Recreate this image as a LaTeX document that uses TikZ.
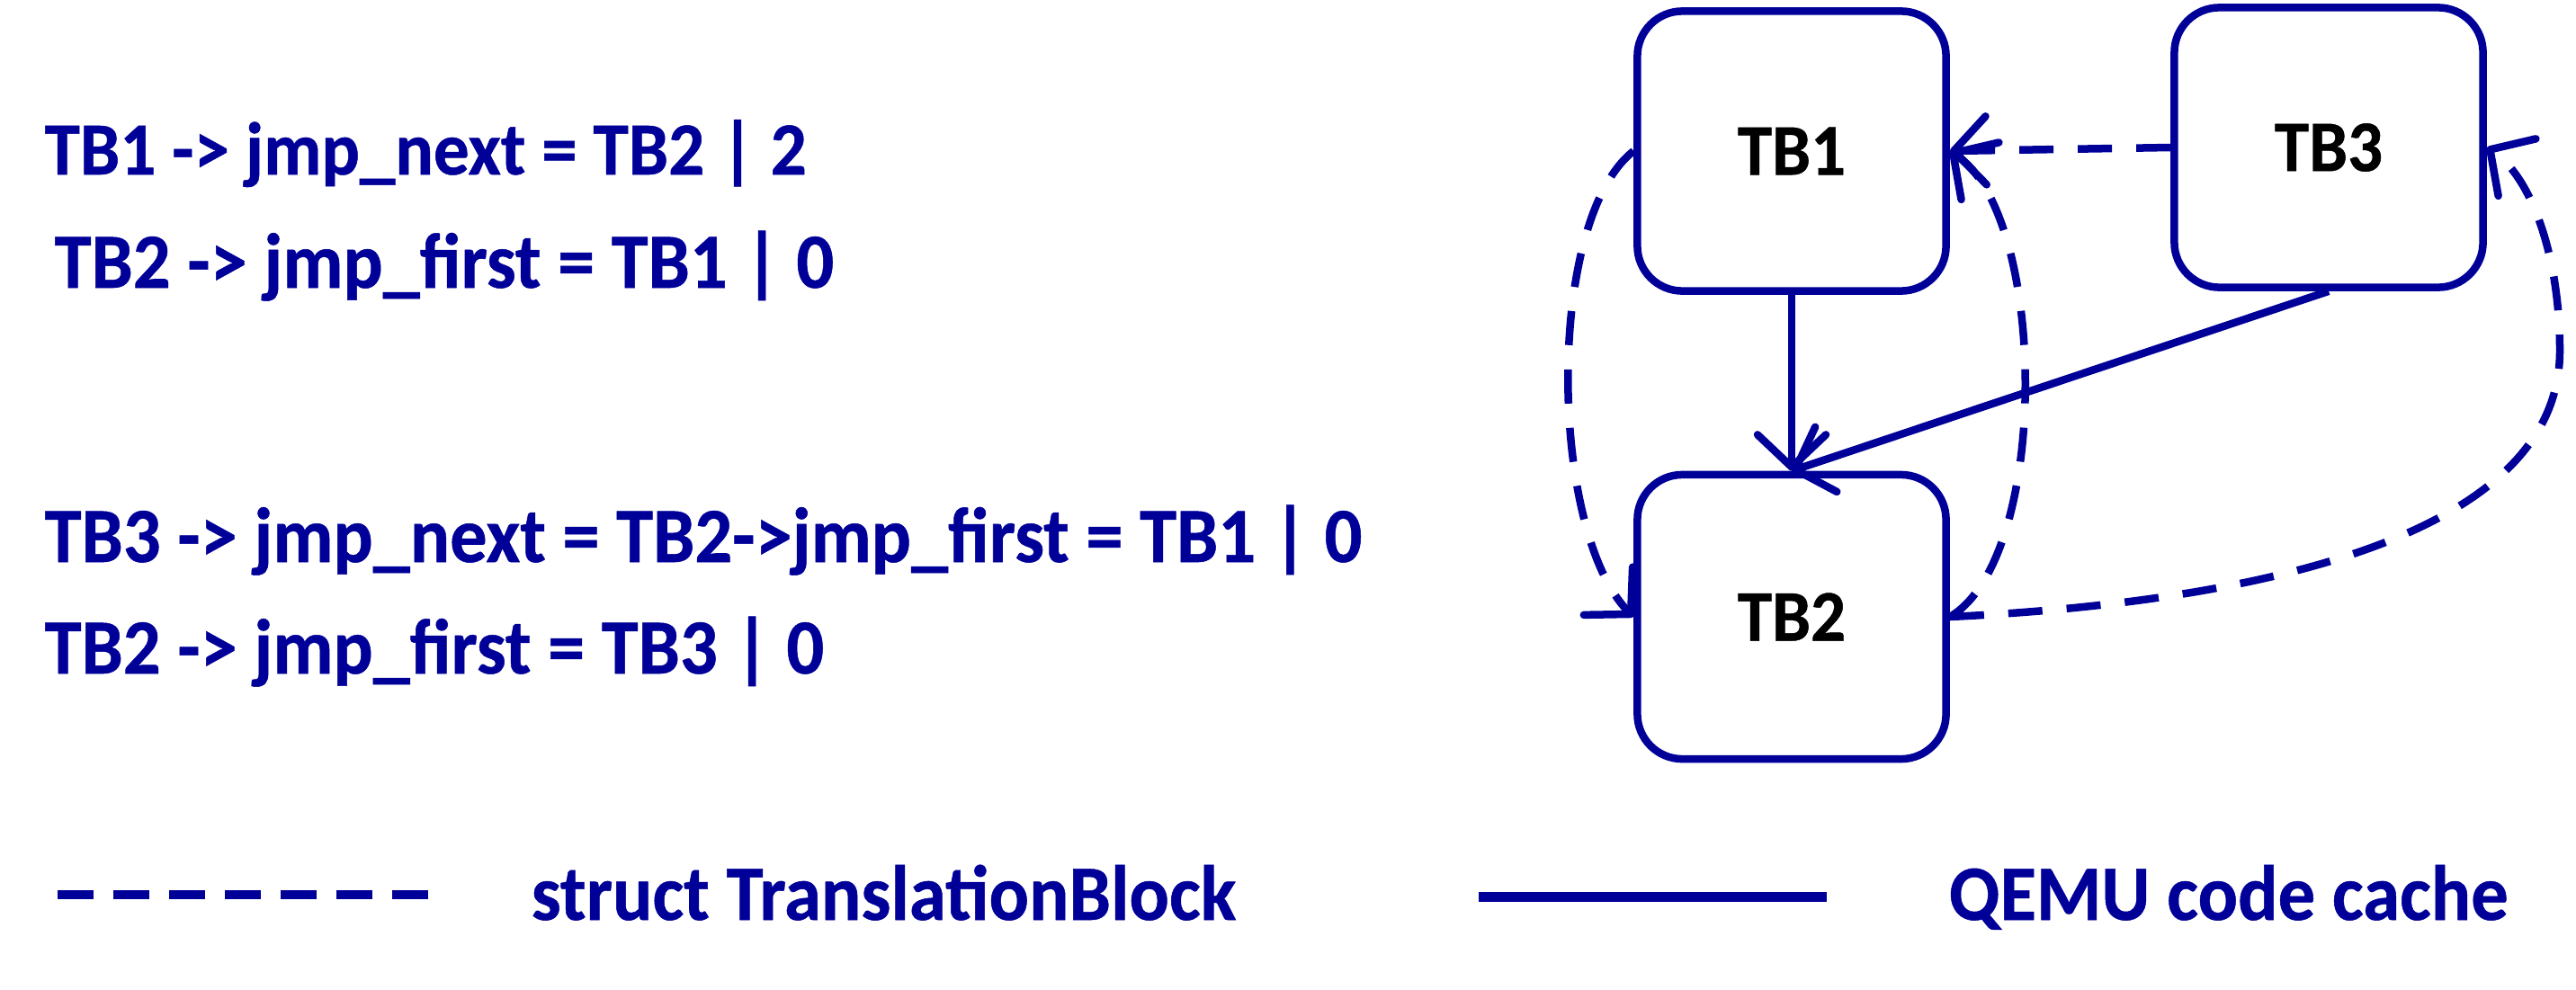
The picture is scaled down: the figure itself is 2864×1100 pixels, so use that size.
\documentclass[tikz,border=0pt]{standalone}
\usepackage{fontspec}
\setmainfont{Carlito}[FakeStretch=0.95, BoldFeatures={FakeBold=0.6}]
\usetikzlibrary{arrows.meta,calc}
\definecolor{qblue}{RGB}{0,0,153}
\begin{document}
\begin{tikzpicture}[x=0.01cm,y=-0.01cm,
  tb/.style={draw=qblue, line width=0.085cm, rounded corners=0.5cm, minimum width=3.43cm, minimum height=3.11cm,
    font=\fontsize{23pt}{27pt}\selectfont\bfseries, text=black, inner sep=0pt},
  code/.style={anchor=base west, text=qblue, font=\fontsize{24.7pt}{29pt}\selectfont\bfseries, inner sep=0pt},
  legendtext/.style={anchor=base west, text=qblue, font=\fontsize{24.8pt}{29pt}\selectfont\bfseries, inner sep=0pt},
  link/.style={draw=qblue, line width=0.085cm, dash pattern=on 0.38cm off 0.27cm},
  cache/.style={draw=qblue, line width=0.085cm},
  tip/.style={-{Straight Barb[length=0.36cm,width=0.76cm,round]}},
]
\useasboundingbox (0,0) rectangle (2864,1100);

% boxes
\node[tb] (tb1) at (1992,168) {TB1};
\node[tb] (tb3) at (2589,164) {TB3};
\node[tb, minimum height=3.16cm] (tb2) at (1992,686) {TB2};

% QEMU code cache links
\draw[cache,tip] (tb1.south) -- (tb2.north);
\draw[cache,tip] (tb3.south) -- (tb2.north);

% struct TranslationBlock links
\draw[link,tip] (tb3.west) -- (tb1.east);
\draw[link,tip] (tb1.west) .. controls (1718,245) and (1722,590) .. (tb2.west);
\draw[link,tip] (tb2.east) .. controls (2280,620) and (2277,240) .. (tb1.east);
\coordinate (bend) at (2846,390);
\draw[link,tip] (tb2.east) .. controls (2500,670) and (2846,600) .. (bend)
  .. controls (2846,280) and (2812,195) .. (tb3.east);

% code text
\node[code] (l1) at (49,194) {\fontsize{23.7pt}{29pt}\selectfont TB1 -> jmp\_next = TB2 | 2};
\node[code] (l2) at (60,320) {TB2 -> jmp\_first = TB1 | 0};
\node[code] (l3) at (49,625) {TB3 -> jmp\_next = TB2->jmp\_first = TB1 | 0};
\node[code] (l4) at (49,749) {TB2 -> jmp\_first = TB3 | 0};

% legend
\coordinate (da) at (64,995);
\coordinate (db) at (479,995);
\draw[qblue, line width=0.1cm, dash pattern=on 0.40cm off 0.22cm] (da) -- (db);
\node[legendtext] (lg1) at (590,1023) {struct TranslationBlock};
\coordinate (sa) at (1644,997);
\coordinate (sb) at (2031,997);
\draw[qblue, line width=0.11cm] (sa) -- (sb);
\node[legendtext] (lg2) at (2166,1023) {QEMU code cache};
\end{tikzpicture}
\end{document}
